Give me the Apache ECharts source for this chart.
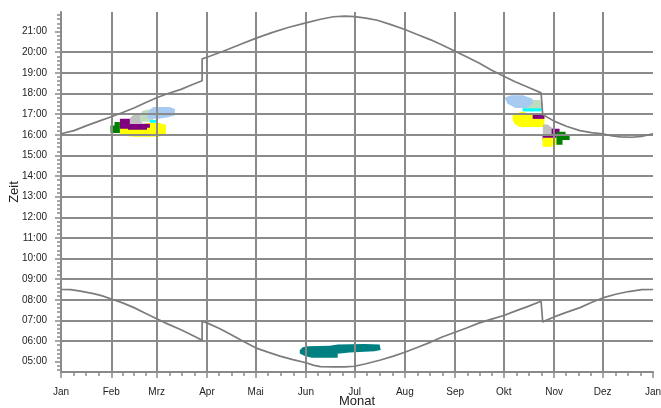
<!DOCTYPE html>
<html><head><meta charset="utf-8">
<script src="https://cdn.jsdelivr.net/npm/echarts@6/dist/echarts.min.js"></script>
<style>html,body{margin:0;padding:0;background:#fff}#c{width:661px;height:408px}</style>
</head><body><div id="c"></div>
<script>
// ---- axes ----
const monthNames = ['Jan','Feb','Mrz','Apr','Mai','Jun','Jul','Aug','Sep','Okt','Nov','Dez','Jan'];
const monthStarts = [0,31,59,90,120,151,181,212,243,273,304,334,365];
const hourTicks = [5,6,7,8,9,10,11,12,13,14,15,16,17,18,19,20,21];

// ---- curves: [day of year, hour] ----
const sunset = [[0,16.05],[8,16.2],[15,16.42],[23,16.65],[31,16.87],[38,17.08],[45,17.3],[52,17.55],[59,17.79],[66,18.0],[74,18.2],[80,18.4],[87,18.62],[87,19.68],[90,19.76],[100,20.05],[110,20.36],[120,20.67],[130,20.95],[140,21.2],[151,21.42],[160,21.6],[168,21.72],[175,21.75],[181,21.73],[188,21.65],[195,21.55],[203,21.35],[212,21.1],[220,20.85],[228,20.6],[235,20.35],[243,20.05],[250,19.78],[258,19.47],[265,19.15],[273,18.84],[280,18.57],[288,18.3],[296,18.03],[297,16.98],[304,16.66],[312,16.4],[320,16.2],[327,16.1],[334,16.04],[340,15.94],[345,15.9],[352,15.88],[358,15.92],[365,16.05]];
const sunrise = [[0,8.5],[6,8.49],[12,8.42],[20,8.3],[25,8.2],[31,8.04],[38,7.85],[45,7.62],[52,7.35],[59,7.08],[66,6.82],[74,6.55],[80,6.32],[87,6.04],[87,6.96],[90,6.88],[98,6.6],[105,6.3],[112,6.0],[120,5.67],[128,5.45],[135,5.27],[143,5.1],[151,4.95],[156,4.82],[160,4.76],[168,4.75],[175,4.75],[181,4.78],[188,4.9],[197,5.08],[205,5.27],[212,5.46],[220,5.7],[228,5.95],[235,6.2],[243,6.43],[250,6.63],[258,6.88],[265,7.05],[273,7.24],[280,7.45],[288,7.68],[296,7.93],[297,6.93],[304,7.17],[312,7.4],[320,7.62],[327,7.87],[334,8.09],[342,8.27],[350,8.4],[358,8.49],[365,8.5]];

// ---- observation areas: outlines as [day, hour] ----
const springYellow = [[36.3,16.34],[50,16.5],[54.8,16.58],[59.8,16.58],[64.7,16.48],[64.7,16.0],[59.8,15.9],[44.4,15.9],[36.3,16.0]];
const springPurple = [[36.3,16.77],[42.5,16.77],[42.5,16.53],[54.8,16.53],[54.8,16.34],[53,16.34],[53,16.24],[41.3,16.24],[41.3,16.29],[36.3,16.29]];
const springGreen = [[30.5,16.45],[33,16.45],[33,16.62],[36.3,16.62],[36.3,16.08],[30.5,16.08]];
const springGray = [[42.5,16.8],[44.4,16.95],[47,17.01],[49.9,17.01],[49.9,16.53],[42.5,16.53]];
const springPaleGreen = [[48.7,16.95],[50,17.15],[53,17.21],[56.7,17.21],[56.7,16.63],[48.7,16.63]];
const springCyan = [[54.8,16.72],[59.8,16.72],[59.8,16.58],[54.8,16.58]];
const springBlue = [[53,16.85],[54.5,17.2],[57,17.35],[67,17.35],[70.2,17.25],[70.2,16.95],[66,16.85],[60,16.77],[54.8,16.77]];

const fallBlue = [[273.5,17.79],[277.2,17.92],[284.6,17.92],[290.8,17.74],[290.8,17.5],[287.1,17.3],[280.3,17.3],[275.3,17.5]];
const fallPaleGreen = [[287.1,17.69],[295.1,17.69],[296.9,17.5],[296.9,17.21],[284.6,17.21],[284.6,17.4]];
const fallCyan = [[284.6,17.28],[296.3,17.28],[296.3,17.13],[284.6,17.13]];
const fallYellow = [[278.4,16.96],[282.7,17.01],[282.7,17.11],[286.4,17.11],[286.4,17.01],[296.9,17.01],[298.1,16.82],[298.1,16.38],[282.7,16.38],[279.6,16.53],[278.4,16.72]];
const fallPurple = [[290.8,16.96],[298.1,16.96],[298.1,16.77],[290.8,16.77]];
const fallGray = [[297.1,16.5],[300,16.5],[303.3,16.3],[303.3,15.93],[297.1,15.93]];
const fallPurple2 = [[302.5,16.29],[307.4,16.29],[307.4,15.95],[305.5,15.95],[305.5,15.75],[296.9,15.75],[296.9,15.95],[302.5,15.95]];
const fallGreen = [[305.5,16.14],[311.1,16.14],[311.1,16.0],[313.6,16.0],[313.6,15.75],[309.2,15.75],[309.2,15.51],[305.5,15.51]];
const fallYellow2 = [[296.9,15.85],[306,15.85],[306,15.5],[303.1,15.5],[303.1,15.42],[296.9,15.42]];

const summerTeal = [[147.2,5.55],[149,5.7],[152,5.75],[165.7,5.77],[170.6,5.83],[187.2,5.86],[196.5,5.83],[197.1,5.57],[193.4,5.5],[178,5.45],[170.6,5.38],[170.6,5.19],[154.6,5.19],[150.3,5.28],[147.2,5.4]];

// ---- drawing ----
const GRID = '#8a8a8a';
const TXT = '#222';
const FONT = 'Liberation Sans';

const xMinor = [];
for (let i = 0; i < 12; i++) {
  const a = monthStarts[i], len = monthStarts[i+1] - a;
  for (let k = 1; k < 4; k++) xMinor.push(a + len * k / 4);
}
const yMinor = [];
for (let h = 4; h < 22; h++) for (let k = 1; k < 5; k++) {
  const v = h + k / 5;
  if (v > 4.5 && v < 21.95) yMinor.push(+v.toFixed(2));
}

function blob(pts, color) {
  return {
    type: 'custom', coordinateSystem: 'cartesian2d', z: 1, silent: true,
    data: pts, encode: {x: 0, y: 1},
    renderItem: function (params, api) {
      if (params.dataIndex !== 0) return;
      return {type: 'polygon', shape: {points: pts.map(p => api.coord(p))}, style: {fill: color}};
    }
  };
}
function curve(pts) {
  return {type: 'line', data: pts, showSymbol: false, symbol: 'none', z: 4, silent: true,
    lineStyle: {color: '#7c7c7c', width: 1.7}};
}

const chart = echarts.init(document.getElementById('c'));
chart.setOption({
  animation: false,
  grid: {left: 61, right: 8, top: 12, bottom: 36, containLabel: false, outerBoundsMode: 'none'},
  xAxis: [{
    type: 'value', min: 0, max: 365, z: 3,
    name: 'Monat', nameLocation: 'middle', nameGap: 23, nameMoveOverlap: false,
    nameTextStyle: {fontSize: 13, color: TXT, fontFamily: FONT, verticalAlign: 'top'},
    axisLine: {show: true, lineStyle: {color: GRID, width: 2}},
    axisTick: {show: true, customValues: monthStarts, length: 6, lineStyle: {color: GRID, width: 1.5}},
    axisLabel: {customValues: monthStarts, margin: 15, fontSize: 10, color: TXT, fontFamily: FONT,
      formatter: v => monthNames[monthStarts.indexOf(v)]},
    splitLine: {show: true, showMaxLine: false, lineStyle: {color: GRID, width: 2}}
  }, {
    type: 'value', min: 0, max: 365, position: 'bottom', z: 3,
    axisLine: {show: false},
    axisTick: {show: true, customValues: xMinor, length: 4, lineStyle: {color: GRID, width: 1.5}},
    axisLabel: {show: false}, splitLine: {show: false}
  }],
  yAxis: [{
    type: 'value', min: 4.5, max: 21.95, z: 3,
    name: 'Zeit', nameLocation: 'middle', nameGap: 40, nameMoveOverlap: false,
    nameTextStyle: {fontSize: 13, color: TXT, fontFamily: FONT},
    axisLine: {show: true, lineStyle: {color: GRID, width: 2}},
    axisTick: {show: true, customValues: hourTicks, length: 6, lineStyle: {color: GRID, width: 1.5}},
    axisLabel: {customValues: hourTicks, margin: 14, fontSize: 10, color: TXT, fontFamily: FONT,
      formatter: v => String(v).padStart(2, '0') + ':00'},
    splitLine: {show: true, showMinLine: false, showMaxLine: false, lineStyle: {color: GRID, width: 2}}
  }, {
    type: 'value', min: 4.5, max: 21.95, position: 'left', z: 3,
    axisLine: {show: false},
    axisTick: {show: true, customValues: yMinor, length: 4, lineStyle: {color: GRID, width: 1.5}},
    axisLabel: {show: false}, splitLine: {show: false}
  }],
  series: [
    blob(springYellow, '#ffff00'), blob(springPurple, '#800080'), blob(springGreen, '#008000'),
    blob(springGray, '#c0c0c0'), blob(springPaleGreen, '#c0dcc0'), blob(springCyan, '#00ffff'),
    blob(springBlue, '#a6caf0'),
    blob(fallPaleGreen, '#c0dcc0'), blob(fallBlue, '#a6caf0'), blob(fallCyan, '#00ffff'),
    blob(fallYellow, '#ffff00'), blob(fallPurple, '#800080'), blob(fallGray, '#c0c0c0'),
    blob(fallPurple2, '#800080'), blob(fallYellow2, '#ffff00'), blob(fallGreen, '#008000'),
    blob(summerTeal, '#008080'),
    curve(sunset), curve(sunrise)
  ]
});
</script>
</body></html>
